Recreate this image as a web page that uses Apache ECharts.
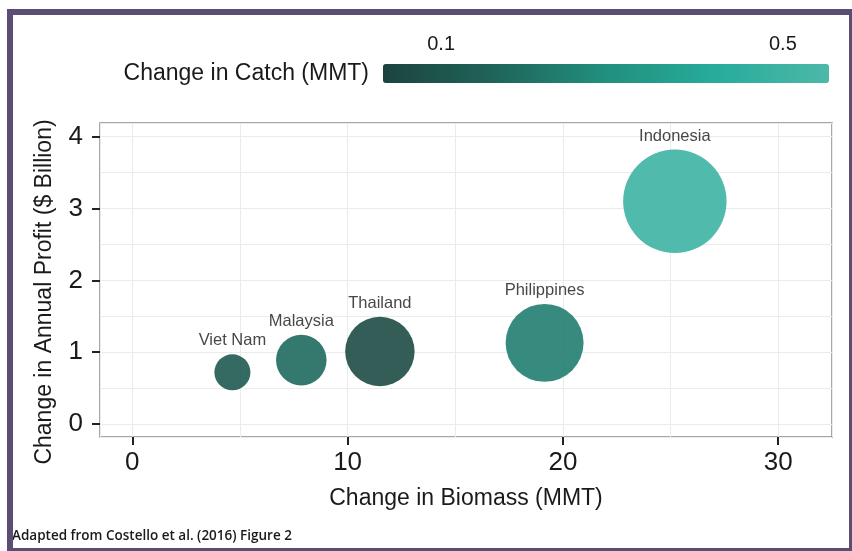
<!DOCTYPE html>
<html><head><meta charset="utf-8">
<script src="https://cdn.jsdelivr.net/npm/echarts@6/dist/echarts.min.js"></script>
<style>html,body{margin:0;padding:0;background:#fff}#c{width:852px;height:551px}</style>
</head><body><div id="c"></div>
<script>
// ---- data ----
const countries = ['Viet Nam', 'Malaysia', 'Thailand', 'Philippines', 'Indonesia'];
const biomassChange = [4.65, 7.85, 11.5, 19.15, 25.2];      // MMT (x)
const profitChange = [0.72, 0.89, 1.01, 1.13, 3.10];        // $ Billion (y)
const catchChange = [0.12, 0.18, 0.06, 0.24, 0.50];         // MMT (colour)
const bubbleMagnitude = [1.3, 2.56, 4.82, 6.08, 10.7];      // relative bubble area
const xTicks = [0, 10, 20, 30];
const yTicks = [0, 1, 2, 3, 4];
const catchTicks = [0.1, 0.5];

const points = countries.map((c, i) => [biomassChange[i], profitChange[i], catchChange[i], bubbleMagnitude[i], c]);

const chart = echarts.init(document.getElementById('c'), null, {renderer: 'canvas'});
const FONT = 'Liberation Sans, Arial, sans-serif';

chart.setOption({
  backgroundColor: '#ffffff',
  animation: false,
  textStyle: {fontFamily: FONT},
  title: [
    {text: 'Change in Catch (MMT)', right: 483, top: 62, padding: 0,
     textStyle: {fontFamily: FONT, fontSize: 23, fontWeight: 'normal', color: '#1a1a1a'}},
    {text: 'Adapted from Costello et al. (2016) Figure 2', left: 12, top: 529, padding: 0,
     textStyle: {fontFamily: 'Open Sans, sans-serif', fontSize: 13.5, fontWeight: 600, color: '#1a1a1a'}}
  ],
  graphic: [
    {type: 'rect', left: 7, top: 9, z: 100, silent: true,
     shape: {x: 0, y: 0, width: 842, height: 539},
     style: {fill: 'none', stroke: '#5c4d74', lineWidth: 6}}
  ],
  grid: [
    {left: 100, top: 123, right: 20, bottom: 114, show: true, borderColor: '#8a8a8a', borderWidth: 1.5,
     backgroundColor: 'transparent', outerBoundsMode: 'none'},
    {left: 383, top: 64, width: 446, height: 19, show: false, outerBoundsMode: 'none'}
  ],
  visualMap: {
    type: 'continuous', min: 0.032, max: 0.554, dimension: 2, seriesIndex: 0,
    orient: 'horizontal', left: 383, top: 64, itemWidth: 19, itemHeight: 446,
    calculable: false, text: null, showLabel: false, padding: 0, hoverLink: false,
    inRange: {color: ['#1c443e', '#1f6459', '#21907f', '#27ac9b', '#4db8a9']}
  },
  xAxis: [
    {gridIndex: 0, type: 'value', min: -1.5, max: 32.5, minInterval: 5, maxInterval: 5,
     axisLine: {show: false, onZero: false}, axisTick: {show: false}, axisLabel: {show: false},
     splitLine: {show: true, lineStyle: {color: '#ebebeb', width: 1}}},
    {gridIndex: 0, type: 'value', min: -1.5, max: 32.5, position: 'bottom',
     axisLine: {show: false, onZero: false},
     axisTick: {show: true, inside: false, customValues: xTicks, length: 8, lineStyle: {color: '#222', width: 2}},
     axisLabel: {customValues: xTicks, fontSize: 26, color: '#1a1a1a', margin: 13},
     splitLine: {show: false},
     name: 'Change in Biomass (MMT)', nameLocation: 'middle', nameGap: 50,
     nameTextStyle: {fontSize: 23, color: '#1a1a1a'}},
    {gridIndex: 1, type: 'value', min: 0.032, max: 0.554, position: 'top',
     axisLine: {show: false, onZero: false}, axisTick: {show: false}, splitLine: {show: false},
     axisLabel: {customValues: catchTicks, fontSize: 20, color: '#1a1a1a', margin: 10,
                 formatter: v => v.toFixed(1)}}
  ],
  yAxis: [
    {gridIndex: 0, type: 'value', min: -0.18, max: 4.19, minInterval: 0.5, maxInterval: 0.5,
     axisLine: {show: false, onZero: false}, axisTick: {show: false}, axisLabel: {show: false},
     splitLine: {show: true, lineStyle: {color: '#ebebeb', width: 1}}},
    {gridIndex: 0, type: 'value', min: -0.18, max: 4.19, position: 'left',
     axisLine: {show: false, onZero: false},
     axisTick: {show: true, inside: false, customValues: yTicks, length: 8, lineStyle: {color: '#222', width: 2}},
     axisLabel: {customValues: yTicks, fontSize: 26, color: '#1a1a1a', margin: 17},
     splitLine: {show: false},
     name: 'Change in Annual Profit ($ Billion)', nameLocation: 'middle', nameGap: 44,
     nameTextStyle: {fontSize: 23, color: '#1a1a1a', padding: [0, 24, 0, 0]}},
    {gridIndex: 1, type: 'value', show: false}
  ],
  series: [{
    type: 'scatter', xAxisIndex: 0, yAxisIndex: 0,
    data: points,
    symbolSize: v => Math.sqrt(v[3] * 1000),
    itemStyle: {opacity: 0.9},
    label: {show: true, position: 'top', distance: 5, fontSize: 16.5, color: '#333',
            formatter: p => p.value[4]},
    emphasis: {disabled: true}
  }]
});
</script>
</body></html>
